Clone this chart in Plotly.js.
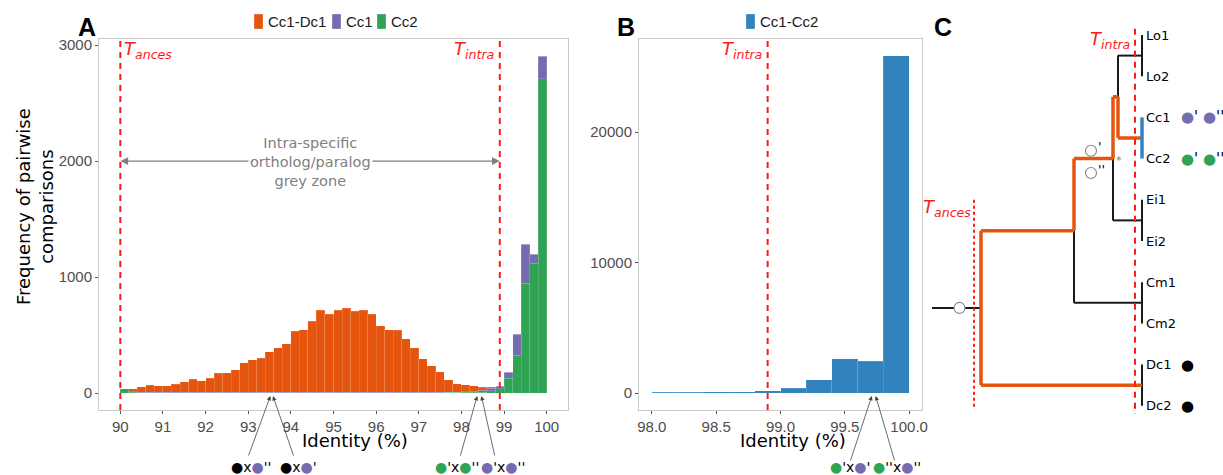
<!DOCTYPE html>
<html><head><meta charset="utf-8">
<script src="https://cdn.plot.ly/plotly-3.0.1.min.js"></script>
<style>html,body{margin:0;padding:0;background:#fff}#chart{width:1223px;height:475px}</style>
</head><body><div id="chart"></div>
<script>
const W = 1223, H = 475;
const FONT = 'Liberation Sans, Arial, Helvetica, sans-serif';
const DJ = 'DejaVu Sans, Verdana, sans-serif';

// ---------- Panel A data (bins of 0.2 % identity, 90 - 100) ----------
const binWidth = 0.2;
const binsA = Array.from({length: 50}, (_, i) => +(90 + i * binWidth).toFixed(1));
const cc1dc1 = [0,28,48,62,56,56,70,92,113,101,121,162,170,196,253,282,294,348,386,420,
                524,541,613,708,670,708,725,696,710,673,575,541,535,463,386,288,228,176,104,70,
                62,45,25,8,0,0,0,0,0,0];
const cc1    = [3,6,2,3,2,3,2,2,3,3,2,3,3,2,3,3,2,3,2,3,
                3,2,3,2,3,3,2,3,2,3,2,3,3,2,3,2,3,3,4,4,
                5,10,15,22,23,52,178,336,77,195];
const cc2    = [37,6,5,4,5,5,4,5,5,4,5,5,4,5,5,5,4,5,5,4,
                5,5,4,5,5,4,5,5,4,5,5,4,5,5,4,5,5,5,6,6,
                7,8,9,19,37,129,328,948,1121,2710];

// ---------- Panel B data (bins of 0.2 % identity, 98 - 100) ----------
const binsB  = [98.0,98.2,98.4,98.6,98.8,99.0,99.2,99.4,99.6,99.8];
const cc1cc2 = [70,75,90,110,190,380,1020,2620,2440,25850];

// thresholds
const tAnces = 90.0;
const tIntra = 98.9;

// ---------- Panel C tree data ----------
const tipNames = ['Lo1','Lo2','Cc1','Cc2','Ei1','Ei2','Cm1','Cm2','Dc1','Dc2'];
const pairs = {Lo:[0,1], Cc:[2,3], Ei:[4,5], Cm:[6,7], Dc:[8,9]};
const internal = {           // node: [depth, children]
  n3:   [-24,  ['Lo','Cc']],
  n2:   [-29,  ['n3','Ei']],
  n1:   [-68,  ['n2','Cm']],
  root: [-161, ['n1','Dc']]
};
const stemDepth = -210;
const orangeLineage = ['n1','Dc','n2','n3','Cc'];
const treeTIntra = -7, treeTAnces = -168;

const COL = {orange:'#E6550D', purple:'#756BB1', green:'#31A354', blue:'#3182BD', red:'#FF1A1A'};

const px = v => v / W, py = v => 1 - v / H;

// ---------- traces ----------
const centersA = binsA.map(b => b + binWidth / 2);
const centersB = binsB.map(b => b + binWidth / 2);
const barLine = {width: 0.4, color: 'rgba(255,255,255,0.35)'};
const traces = [
  {type:'bar', x:centersA, y:cc2, width:binsA.map(()=>binWidth), name:'Cc2', marker:{color:COL.green, line:barLine}, xaxis:'x', yaxis:'y', hoverinfo:'skip'},
  {type:'bar', x:centersA, y:cc1, width:binsA.map(()=>binWidth), name:'Cc1', marker:{color:COL.purple, line:barLine}, xaxis:'x', yaxis:'y', hoverinfo:'skip'},
  {type:'bar', x:centersA, y:cc1dc1, width:binsA.map(()=>binWidth), name:'Cc1-Dc1', marker:{color:COL.orange, line:barLine}, xaxis:'x', yaxis:'y', hoverinfo:'skip'},
  {type:'bar', x:centersB, y:cc1cc2, width:binsB.map(()=>binWidth), name:'Cc1-Cc2', marker:{color:COL.blue, line:barLine}, xaxis:'x2', yaxis:'y2', hoverinfo:'skip'}
];

// tree layout
const nodes = {};
Object.keys(pairs).forEach(k => { const t = pairs[k]; nodes[k] = {x:0, y:(t[0]+t[1])/2}; });
['n3','n2','n1','root'].forEach(k => {
  const [d, kids] = internal[k];
  nodes[k] = {x:d, y:(nodes[kids[0]].y + nodes[kids[1]].y)/2};
});
const seg = {black:{x:[],y:[]}, orange:{x:[],y:[]}, blue:{x:[],y:[]}};
function addSeg(c, x0,y0,x1,y1){ seg[c].x.push(x0,x1,null); seg[c].y.push(y0,y1,null); }
Object.keys(internal).forEach(k => {
  const P = nodes[k];
  internal[k][1].forEach(kid => {
    const K = nodes[kid];
    const c = orangeLineage.includes(kid) ? 'orange' : 'black';
    addSeg(c, P.x, P.y, P.x, K.y);
    addSeg(c, P.x, K.y, K.x, K.y);
  });
});
Object.keys(pairs).forEach(k => { const t = pairs[k]; addSeg(k === 'Cc' ? 'blue' : 'black', 0, t[0], 0, t[1]); });
addSeg('black', stemDepth, nodes.root.y, nodes.root.x, nodes.root.y);
traces.push({type:'scatter', mode:'lines', x:seg.black.x, y:seg.black.y, line:{color:'#1a1a1a', width:2}, xaxis:'x3', yaxis:'y3', hoverinfo:'skip'});
traces.push({type:'scatter', mode:'lines', x:seg.orange.x, y:seg.orange.y, line:{color:COL.orange, width:3.5}, xaxis:'x3', yaxis:'y3', hoverinfo:'skip'});
traces.push({type:'scatter', mode:'lines', x:seg.blue.x, y:seg.blue.y, line:{color:COL.blue, width:3.5}, xaxis:'x3', yaxis:'y3', hoverinfo:'skip'});
const n2 = nodes.n2, rt = nodes.root;
traces.push({type:'scatter', mode:'markers',
  x:[(stemDepth + rt.x)/2 + 3, n2.x - 22, n2.x - 22],
  y:[rt.y, n2.y - 0.19, n2.y + 0.35],
  marker:{size:11, color:'#fff', line:{color:'#8c8c8c', width:1.2}},
  xaxis:'x3', yaxis:'y3', hoverinfo:'skip', cliponaxis:false});

// ---------- annotations ----------
const ann = [];
const shapes = [];
const tLabel = (sub) => `<i>T<sub>${sub}</sub></i>`;
const tFont = {family: DJ, size: 18, color: COL.red};
ann.push({xref:'x', yref:'paper', x:tAnces, y:py(50), xanchor:'left', xshift:2, text:tLabel('ances'), showarrow:false, font:tFont});
ann.push({xref:'x', yref:'paper', x:tIntra, y:py(50), xanchor:'right', xshift:-4, text:tLabel('intra'), showarrow:false, font:tFont});
ann.push({xref:'x2', yref:'paper', x:tIntra, y:py(50), xanchor:'right', xshift:-4, text:tLabel('intra'), showarrow:false, font:tFont});
ann.push({xref:'x3', yref:'paper', x:treeTIntra, y:py(40), xanchor:'right', xshift:-3, text:tLabel('intra'), showarrow:false, font:tFont});
ann.push({xref:'x3', yref:'paper', x:treeTAnces, y:py(208), xanchor:'right', xshift:-1, text:tLabel('ances'), showarrow:false, font:tFont});

// grey zone double arrow
const mid = (tAnces + tIntra) / 2;
const greyArrow = {xref:'x', yref:'y', axref:'x', ayref:'y', ay:2000, y:2000, ax:mid, text:'', showarrow:true, arrowhead:2, arrowsize:1.2, arrowwidth:1.3, arrowcolor:'#7f7f7f'};
ann.push(Object.assign({}, greyArrow, {x:tAnces}));
ann.push(Object.assign({}, greyArrow, {x:tIntra}));
ann.push({xref:'x', yref:'y', x:mid, y:2000, text:'Intra-specific<br>ortholog/paralog<br>grey zone', showarrow:false, bgcolor:'#fff', font:{family:DJ, size:14.5, color:'#7f7f7f'}, yshift:-1});

// axis titles
const titleFont = {family: DJ, size: 18, color: '#000'};
ann.push({xref:'paper', yref:'paper', x:px(35), y:py(207), text:'Frequency of pairwise<br>comparisons', textangle:-90, showarrow:false, font:titleFont});
ann.push({xref:'paper', yref:'paper', x:px(355), y:py(440), text:'Identity (%)', showarrow:false, font:titleFont});
ann.push({xref:'paper', yref:'paper', x:px(793), y:py(440), text:'Identity (%)', showarrow:false, font:titleFont});

// panel letters
const letterFont = {family: FONT, size: 25, color: '#000'};
[['A',87],['B',626],['C',943]].forEach(([t,x]) => ann.push({xref:'paper', yref:'paper', x:px(x), y:py(27), text:'<b>'+t+'</b>', showarrow:false, font:letterFont}));

// legends (key squares + labels)
const legendItems = [
  {name:'Cc1-Dc1', color:COL.orange, x:254}, {name:'Cc1', color:COL.purple, x:332}, {name:'Cc2', color:COL.green, x:377},
  {name:'Cc1-Cc2', color:COL.blue, x:746}
];
legendItems.forEach(it => {
  shapes.push({type:'rect', xref:'paper', yref:'paper', x0:px(it.x), x1:px(it.x+9), y0:py(29), y1:py(14), fillcolor:it.color, line:{width:0.5, color:'rgba(255,255,255,0.6)'}});
  ann.push({xref:'paper', yref:'paper', x:px(it.x+12), y:py(22), xanchor:'left', text:it.name, showarrow:false, font:{family:FONT, size:15, color:'#1a1a1a'}});
});

// pointer arrows to pairs of paralogs
const dot = c => `<span style="color:${c}">●</span>`;
const K = '#000';
const arrows = [
  {xr:'x', x:93.52, tail:[248,457], lab:dot(K)+'x'+dot(COL.purple)+"''", lx:251},
  {xr:'x', x:93.58, tail:[294,457], lab:dot(K)+'x'+dot(COL.purple)+"'", lx:298},
  {xr:'x', x:98.37, tail:[460,457], lab:dot(COL.green)+"'x"+dot(COL.green)+"''", lx:457},
  {xr:'x', x:98.47, tail:[495,457], lab:dot(COL.purple)+"'x"+dot(COL.purple)+"''", lx:503},
  {xr:'x2', x:99.71, tail:[850,462], lab:dot(COL.green)+"'x"+dot(COL.purple)+"'", lx:850},
  {xr:'x2', x:99.74, tail:[895,462], lab:dot(COL.green)+"''x"+dot(COL.purple)+"''", lx:897}
];
const headY = 396;
arrows.forEach(a => {
  ann.push({xref:a.xr, yref:'paper', x:a.x, y:py(headY), axref:'pixel', ayref:'pixel',
    ax: 0, ay: 0, _tail:a.tail, text:'', showarrow:true, arrowhead:2, arrowsize:1.1, arrowwidth:0.8, arrowcolor:'#444'});
  ann.push({xref:'paper', yref:'paper', x:px(a.lx), y:py(467), text:a.lab, showarrow:false, font:{family:DJ, size:14, color:'#000'}});
});

// tree tip labels and markers
tipNames.forEach((n, i) => ann.push({xref:'x3', yref:'y3', x:0, y:i, xanchor:'left', xshift:2, text:n, showarrow:false, font:{family:DJ, size:13, color:'#000'}}));
const tipDots = {2: dot(COL.purple)+"' "+dot(COL.purple)+"''", 3: dot(COL.green)+"' "+dot(COL.green)+"''", 8: dot(K), 9: dot(K)};
Object.keys(tipDots).forEach(i => ann.push({xref:'x3', yref:'y3', x:37, y:+i, xanchor:'left', text:tipDots[i], showarrow:false, font:{family:DJ, size:15, color:'#000'}}));
ann.push({xref:'x3', yref:'y3', x:n2.x - 22, y:n2.y - 0.19, xanchor:'left', xshift:5, yshift:4, text:"'", showarrow:false, font:{family:DJ, size:13, color:'#000'}});
ann.push({xref:'x3', yref:'y3', x:n2.x - 22, y:n2.y + 0.35, xanchor:'left', xshift:5, yshift:4, text:"''", showarrow:false, font:{family:DJ, size:13, color:'#000'}});
ann.push({xref:'x3', yref:'y3', x:n2.x, y:n2.y, xanchor:'left', xshift:1, yshift:-2, text:'*', showarrow:false, font:{family:DJ, size:11, color:'#7f7f7f'}});

// ---------- threshold lines ----------
shapes.push(
  {type:'line', xref:'x', yref:'y domain', x0:tAnces, x1:tAnces, y0:0, y1:1, line:{color:COL.red, width:2, dash:'6px,5px'}},
  {type:'line', xref:'x', yref:'y domain', x0:tIntra, x1:tIntra, y0:0, y1:1, line:{color:COL.red, width:2, dash:'6px,5px'}},
  {type:'line', xref:'x2', yref:'y2 domain', x0:tIntra, x1:tIntra, y0:0, y1:1, line:{color:COL.red, width:2, dash:'6px,5px'}},
  {type:'line', xref:'x3', yref:'y3', x0:treeTIntra, x1:treeTIntra, y0:-0.15, y1:9.2, line:{color:COL.red, width:2, dash:'6px,5px'}},
  {type:'line', xref:'x3', yref:'y3', x0:treeTAnces, x1:treeTAnces, y0:4.0, y1:9.05, line:{color:COL.red, width:2, dash:'3px,3px'}}
);

const axBase = {ticks:'outside', ticklen:3, tickcolor:'#555', tickwidth:1, showline:true, mirror:true, linecolor:'#c8c8c8', linewidth:1,
  showgrid:false, zeroline:false, fixedrange:true, tickfont:{family:FONT, size:15, color:'#4d4d4d'}};
const layout = {
  width:W, height:H, margin:{l:0,r:0,t:0,b:0}, paper_bgcolor:'#fff', plot_bgcolor:'rgba(0,0,0,0)',
  barmode:'stack', bargap:0, showlegend:false,
  xaxis: Object.assign({}, axBase, {domain:[px(99), px(568)], range:[89.5,100.5], tickvals:[90,91,92,93,94,95,96,97,98,99,100], anchor:'y'}),
  yaxis: Object.assign({}, axBase, {domain:[py(410), py(39)], range:[-145,3052], tickvals:[0,1000,2000,3000], anchor:'x'}),
  xaxis2: Object.assign({}, axBase, {domain:[px(639), px(922)], range:[97.9,100.1], tickvals:[98,98.5,99,99.5,100], tickformat:'.1f', anchor:'y2'}),
  yaxis2: Object.assign({}, axBase, {domain:[py(410), py(39)], range:[-1290,27140], tickvals:[0,10000,20000], tickformat:'d', anchor:'x2'}),
  xaxis3: {domain:[px(925), 1], range:[925-1142, 1223-1142], visible:false, fixedrange:true, anchor:'y3'},
  yaxis3: {domain:[0,1], range:[(475-35)/41.2, -35/41.2], visible:false, fixedrange:true, anchor:'x3'},
  annotations: ann, shapes: shapes
};
ann.forEach(a => {
  if (!a.xanchor) a.xanchor = 'center';
  if (!a.yanchor) a.yanchor = 'middle';
  if (a._tail) {
    const axis = a.xref === 'x' ? layout.xaxis : layout.xaxis2;
    const d = axis.domain, r = axis.range;
    const headPx = (d[0] + (a.x - r[0]) / (r[1] - r[0]) * (d[1] - d[0])) * W;
    a.ax = a._tail[0] - headPx;
    a.ay = a._tail[1] - headY;
    delete a._tail;
  }
});
Plotly.newPlot('chart', traces, layout, {staticPlot:true, displayModeBar:false});
</script>
</body></html>
